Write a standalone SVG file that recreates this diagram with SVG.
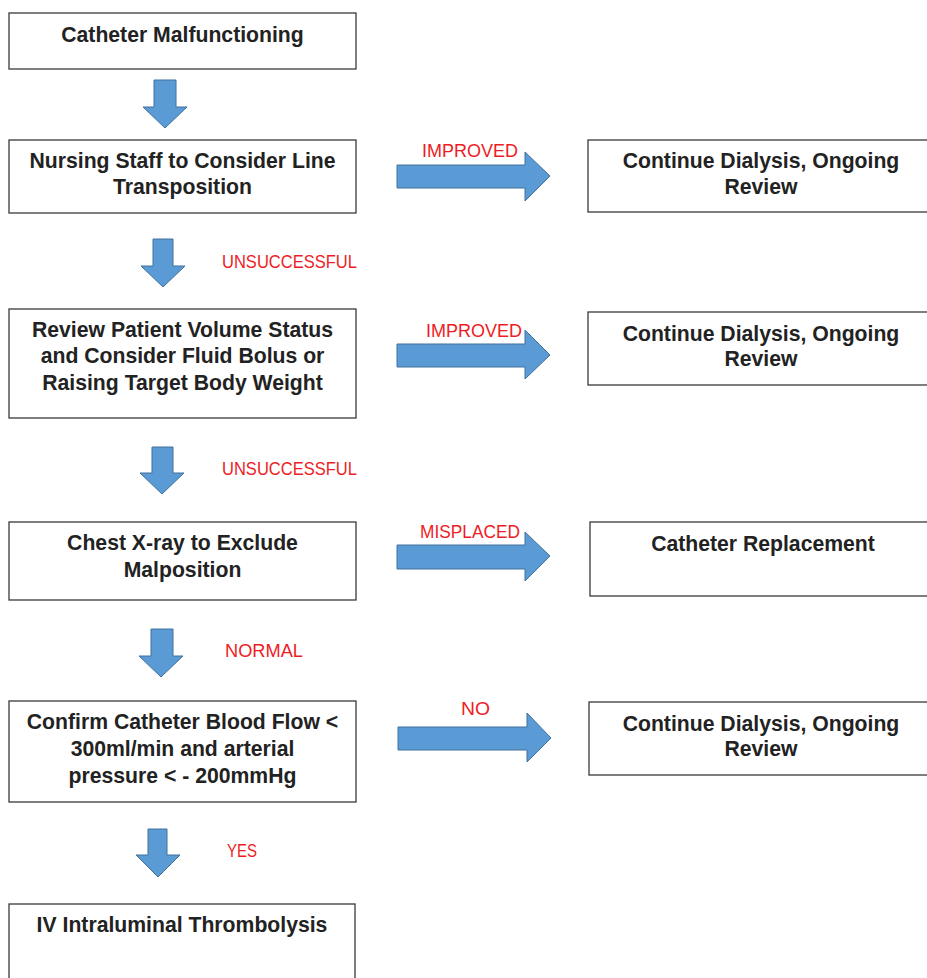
<svg xmlns="http://www.w3.org/2000/svg" width="927" height="978" viewBox="0 0 927 978">
<style>
.box{fill:#fff;stroke:#3a3a3a;stroke-width:1.3}
.t{font-family:"Liberation Sans",Arial,sans-serif;font-weight:bold;font-size:21.2px;fill:#222;text-anchor:middle}
.lbl{font-family:"Liberation Sans",Arial,sans-serif;font-size:18px;fill:#ee1c25}
.arr{fill:#5b9bd5;stroke:#41719c;stroke-width:1}
</style>
<rect width="927" height="978" fill="#fff"/>
<g id="connectors">
<polygon class="arr" points="154,80 176,80 176,107 187,107 165,128 143,107 154,107"/>
<polygon class="arr" points="153,239 173,239 173,266 185,266 163,287 141,266 153,266"/>
<polygon class="arr" points="152,447 173,447 173,473 184,473 162,494 140,473 152,473"/>
<polygon class="arr" points="151,629 173,629 173,656 183,656 161,677 139,656 151,656"/>
<polygon class="arr" points="148,829 167,829 167,855 180,855 158,877 136,855 148,855"/>
<polygon class="arr" points="397,165 525,165 525,152 550,176 525,201 525,188 397,188"/>
<polygon class="arr" points="397,344 525,344 525,330 550,355 525,379 525,367 397,367"/>
<polygon class="arr" points="397,545 525,545 525,532 550,556 525,581 525,569 397,569"/>
<polygon class="arr" points="398,727 527,727 527,713 551,738 527,762 527,750 398,750"/>
<text class="lbl" x="422" y="157" textLength="96" lengthAdjust="spacingAndGlyphs">IMPROVED</text>
<text class="lbl" x="222" y="268" textLength="135" lengthAdjust="spacingAndGlyphs">UNSUCCESSFUL</text>
<text class="lbl" x="426" y="337" textLength="96" lengthAdjust="spacingAndGlyphs">IMPROVED</text>
<text class="lbl" x="222" y="475" textLength="135" lengthAdjust="spacingAndGlyphs">UNSUCCESSFUL</text>
<text class="lbl" x="420" y="538" textLength="100" lengthAdjust="spacingAndGlyphs">MISPLACED</text>
<text class="lbl" x="225" y="657" textLength="78" lengthAdjust="spacingAndGlyphs">NORMAL</text>
<text class="lbl" x="461" y="715" textLength="29" lengthAdjust="spacingAndGlyphs">NO</text>
<text class="lbl" x="227" y="857" textLength="30" lengthAdjust="spacingAndGlyphs">YES</text>
</g>
<g id="n1"><rect class="box" x="9" y="13" width="347" height="56"/><text class="t" x="182.5" y="42">Catheter Malfunctioning</text></g>
<g id="n2"><rect class="box" x="9" y="140" width="347" height="73"/><text class="t" x="182.5" y="168">Nursing Staff to Consider Line</text><text class="t" x="182.5" y="194">Transposition</text></g>
<g id="n3"><rect class="box" x="588" y="140" width="345" height="72"/><text class="t" x="761" y="168">Continue Dialysis, Ongoing</text><text class="t" x="761" y="194">Review</text></g>
<g id="n4"><rect class="box" x="9" y="309" width="347" height="109"/><text class="t" x="182.5" y="337">Review Patient Volume Status</text><text class="t" x="182.5" y="363">and Consider Fluid Bolus or</text><text class="t" x="182.5" y="390">Raising Target Body Weight</text></g>
<g id="n5"><rect class="box" x="588" y="312" width="345" height="73"/><text class="t" x="761" y="341">Continue Dialysis, Ongoing</text><text class="t" x="761" y="366">Review</text></g>
<g id="n6"><rect class="box" x="9" y="522" width="347" height="78"/><text class="t" x="182.5" y="550">Chest X-ray to Exclude</text><text class="t" x="182.5" y="577">Malposition</text></g>
<g id="n7"><rect class="box" x="590" y="522" width="345" height="74"/><text class="t" x="763" y="551">Catheter Replacement</text></g>
<g id="n8"><rect class="box" x="9" y="701" width="347" height="101"/><text class="t" x="182.5" y="729">Confirm Catheter Blood Flow &lt;</text><text class="t" x="182.5" y="756">300ml/min and arterial</text><text class="t" x="182.5" y="783">pressure &lt; - 200mmHg</text></g>
<g id="n9"><rect class="box" x="589" y="702" width="345" height="73"/><text class="t" x="761" y="731">Continue Dialysis, Ongoing</text><text class="t" x="761" y="756">Review</text></g>
<g id="n10"><rect class="box" x="9" y="904" width="346" height="90"/><text class="t" x="182" y="932">IV Intraluminal Thrombolysis</text></g>
</svg>
